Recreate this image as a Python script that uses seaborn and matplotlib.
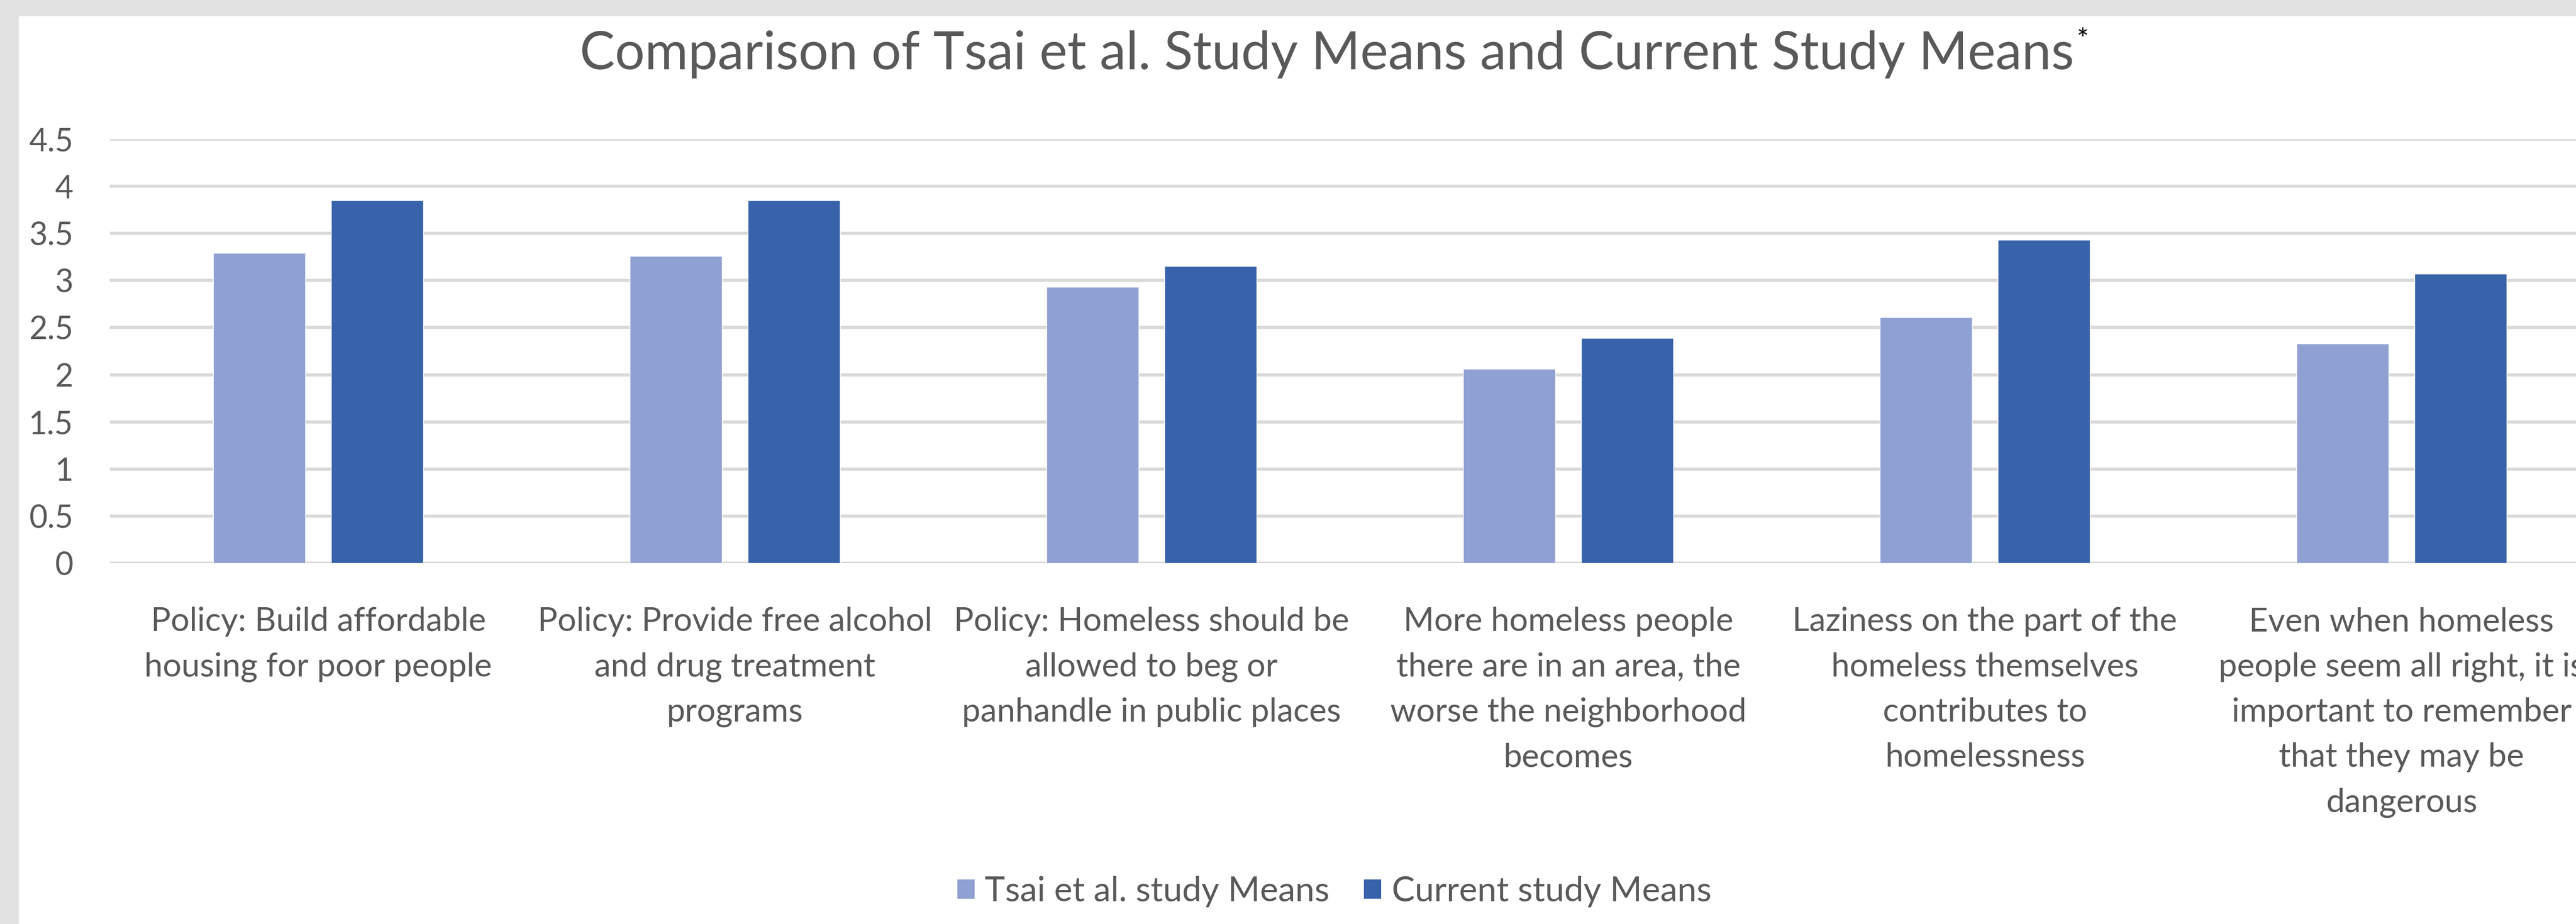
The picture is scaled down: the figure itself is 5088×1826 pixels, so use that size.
import matplotlib
matplotlib.use("Agg")
import matplotlib.pyplot as plt
from matplotlib.patches import Rectangle, Patch
from matplotlib.text import Annotation
import seaborn as sns
import pandas as pd

categories = [
    "Policy: Build affordable\nhousing for poor people",
    "Policy: Provide free alcohol\nand drug treatment\nprograms",
    "Policy: Homeless should be\nallowed to beg or\npanhandle in public places",
    "More homeless people\nthere are in an area, the\nworse the neighborhood\nbecomes",
    "Laziness on the part of the\nhomeless themselves\ncontributes to\nhomelessness",
    "Even when homeless\npeople seem all right, it is\nimportant to remember\nthat they may be\ndangerous",
]
tsai_means = [3.29, 3.26, 2.93, 2.06, 2.61, 2.33]
current_means = [3.85, 3.85, 3.15, 2.39, 3.43, 3.07]
series_names = ["Tsai et al. study Means", "Current study Means"]
yticks = [0, 0.5, 1, 1.5, 2, 2.5, 3, 3.5, 4, 4.5]
ytick_labels = ["0", "0.5", "1", "1.5", "2", "2.5", "3", "3.5", "4", "4.5"]
title = "Comparison of Tsai et al. Study Means and Current Study Means"

colors = ["#8FA0D2", "#3862AA"]
text_color = "#595959"
grid_color = "#D9D9D9"

df = pd.DataFrame({
    "category": categories * 2,
    "series": [series_names[0]] * len(categories) + [series_names[1]] * len(categories),
    "value": tsai_means + current_means,
})

sns.set_theme(style="white")
plt.rcParams["font.family"] = ["Lato", "DejaVu Sans"]

W, H = 5088, 1826
fig = plt.figure(figsize=(W / 100, H / 100), dpi=100)
fig.patch.set_facecolor("#E2E2E2")
fig.patches.append(Rectangle((37 / W, 0), 1, 1 - 32 / H, transform=fig.transFigure,
                             facecolor="white", edgecolor="none", zorder=-10))

ax = fig.add_axes([217 / W, 713 / H, 4938 / W, 838 / H])
ax.set_zorder(1)
ax.set_facecolor("none")

sns.barplot(data=df, x="category", y="value", hue="series", order=categories,
            hue_order=series_names, palette=colors, width=0.567, gap=0.22,
            saturation=1, ax=ax, legend=False, zorder=3)

ax.set_ylim(0, 4.5)
ax.set_xlim(-0.5, len(categories) - 0.5)
ax.set_yticks(yticks)
ax.set_yticklabels(ytick_labels)
ax.yaxis.grid(True, color=grid_color, linewidth=4.5, zorder=0)
ax.set_axisbelow(True)
for s in ax.spines.values():
    s.set_visible(False)
ax.set_xlabel("")
ax.set_ylabel("")
ax.tick_params(axis="y", length=0, pad=52, labelsize=45, labelcolor=text_color)
ax.tick_params(axis="x", length=0, pad=62, labelsize=47, labelcolor=text_color)
for lab in ax.get_xticklabels():
    lab.set_linespacing(1.63)
    lab.set_ha("center")

t = fig.text(0.515, 0.941, title, ha="center", va="center", fontsize=75, color=text_color,
             zorder=5)
fig.add_artist(Annotation("*", xy=(1, 1), xycoords=t, xytext=(4, 4),
                          textcoords="offset points", ha="left", va="top",
                          fontsize=40, color="black", zorder=5))

handles = [Patch(facecolor=c, edgecolor="none") for c in colors]
fig.legend(handles, series_names, loc="center", bbox_to_anchor=(0.518, 0.035), ncol=2,
           frameon=False, fontsize=49, labelcolor=text_color, handlelength=0.5,
           handleheight=0.5, handletextpad=0.3, columnspacing=1.0)

fig.savefig("out.png", dpi=100, facecolor=fig.get_facecolor())
